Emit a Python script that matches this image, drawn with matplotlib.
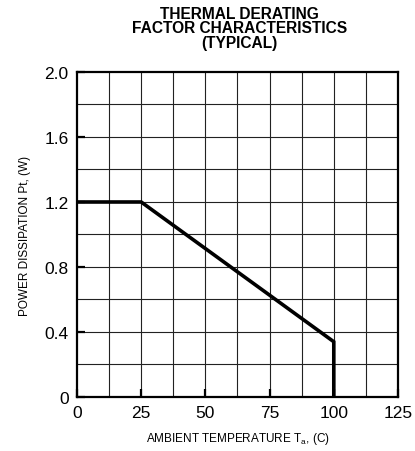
import matplotlib
matplotlib.use('Agg')
import matplotlib.pyplot as plt
import numpy as np

plt.rcParams['font.family'] = ['Liberation Sans', 'DejaVu Sans']

# derating curve
temp = [0, 25, 100, 100]
power = [1.2, 1.2, 0.34, 0]

x_ticks = [0, 25, 50, 75, 100, 125]
y_ticks = [0, 0.4, 0.8, 1.2, 1.6, 2.0]
y_labels = ['0', '0.4', '0.8', '1.2', '1.6', '2.0']

fig = plt.figure(figsize=(4.15, 4.52), dpi=100)
ax = fig.add_axes([0.1855, 0.1195, 0.7735, 0.719])

# grid every 12.5 C and 0.2 W
for gx in np.arange(12.5, 125, 12.5):
    ax.axvline(gx, color='#222222', linewidth=0.8, zorder=1)
for gy in np.arange(0.2, 2.0, 0.2):
    ax.axhline(gy, color='#222222', linewidth=0.8, zorder=1)

ax.plot(temp, power, color='black', linewidth=2.6, zorder=3, solid_joinstyle='miter')

ax.set_xlim(0, 125)
ax.set_ylim(0, 2.0)
ax.set_xticks(x_ticks)
ax.set_yticks(y_ticks)
ax.set_yticklabels(y_labels)
ax.tick_params(direction='in', length=6, width=1.6, labelsize=12.5, pad=6)
for s in ax.spines.values():
    s.set_linewidth(1.6)

ax.set_xlabel('AMBIENT TEMPERATURE T$_\\mathregular{a}$, (C)', fontsize=8.5, labelpad=7)
ax.set_ylabel('POWER DISSIPATION Pt, (W)', fontsize=8.5, labelpad=10)
fig.text(0.578, 0.985, 'THERMAL DERATING\nFACTOR CHARACTERISTICS\n(TYPICAL)', fontsize=11.2,
         fontweight='bold', linespacing=0.95, ha='center', va='top', multialignment='center')

fig.savefig('out.png', dpi=100)
